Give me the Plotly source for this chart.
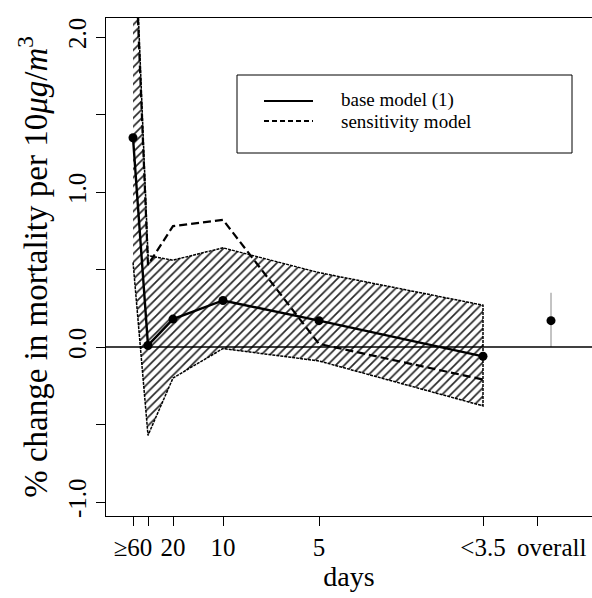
import plotly.graph_objects as go

# ---- data ----
# horizontal positions of the lag categories along the axis (axis units)
tick_pos = [133, 173, 223, 319, 483]
tick_labels = ["\u226560", "20", "10", "5", "<3.5"]
unlabeled_tick_pos = [148, 537]
overall_label_pos = 551

x_pts = [133, 148, 173, 223, 319, 483]
base_model = [1.35, 0.01, 0.18, 0.30, 0.17, -0.06]
sensitivity_model = [2.90, 0.53, 0.78, 0.82, 0.02, -0.21]
band_upper = [3.00, 0.59, 0.56, 0.64, 0.48, 0.27]
band_lower = [0.55, -0.57, -0.20, -0.01, -0.09, -0.38]

overall_x = [551]
overall_est = [0.17]
overall_lo = [0.00]
overall_hi = [0.35]

y_ticks = [-1.0, 0.0, 1.0, 2.0]
y_tick_labels = ["-1.0", "0.0", "1.0", "2.0"]
y_minor_ticks = [-0.5, 0.5, 1.5]

FONT = "Liberation Serif"

fig = go.Figure()

# hatched confidence band
fig.add_trace(go.Scatter(
    x=x_pts + x_pts[::-1],
    y=band_upper + band_lower[::-1],
    fill="toself",
    mode="lines",
    line=dict(color="black", width=1.5, dash="3px,1px"),
    fillcolor="rgba(0,0,0,0)",
    fillpattern=dict(shape="/", size=6, solidity=0.28, fgcolor="black", bgcolor="white", fgopacity=0.85),
    hoverinfo="skip", showlegend=False,
))

# sensitivity model
fig.add_trace(go.Scatter(
    x=x_pts, y=sensitivity_model, mode="lines",
    line=dict(color="black", width=2.2, dash="8px,4px"),
    showlegend=False,
))

# base model
fig.add_trace(go.Scatter(
    x=x_pts, y=base_model, mode="lines+markers",
    line=dict(color="black", width=2.4),
    marker=dict(color="black", size=9),
    showlegend=False,
))

# overall estimate with interval
fig.add_trace(go.Scatter(
    x=overall_x * 2, y=[overall_lo[0], overall_hi[0]], mode="lines",
    line=dict(color="#888888", width=1), showlegend=False,
))
fig.add_trace(go.Scatter(
    x=overall_x, y=overall_est, mode="markers",
    marker=dict(color="black", size=9), showlegend=False,
))

# zero reference line
fig.add_shape(type="line", xref="paper", yref="y", x0=0, x1=1, y0=0, y1=0,
              line=dict(color="black", width=1.5))

# legend box drawn manually (paper coordinates)
def px2paper_x(px):
    return (px - 106) / 486.0

def px2paper_y(py):
    return (516 - py) / 498.0

fig.add_shape(type="rect", xref="paper", yref="paper",
              x0=px2paper_x(237), x1=px2paper_x(572),
              y0=px2paper_y(153), y1=px2paper_y(75),
              line=dict(color="black", width=1), fillcolor="white", layer="above")
fig.add_shape(type="line", xref="paper", yref="paper",
              x0=px2paper_x(264), x1=px2paper_x(313), y0=px2paper_y(101), y1=px2paper_y(101),
              line=dict(color="black", width=2), layer="above")
fig.add_shape(type="line", xref="paper", yref="paper",
              x0=px2paper_x(264), x1=px2paper_x(313), y0=px2paper_y(121), y1=px2paper_y(121),
              line=dict(color="black", width=2, dash="5px,3px"), layer="above")
fig.add_annotation(xref="paper", yref="paper", x=px2paper_x(339), y=px2paper_y(100),
                   text="base model (1)", showarrow=False, xanchor="left", yanchor="middle",
                   font=dict(family=FONT, size=19, color="black"))
fig.add_annotation(xref="paper", yref="paper", x=px2paper_x(339), y=px2paper_y(121),
                   text="sensitivity model", showarrow=False, xanchor="left", yanchor="middle",
                   font=dict(family=FONT, size=19, color="black"))

# "overall" label (offset from its tick as in the original)
fig.add_annotation(xref="x", yref="paper", x=overall_label_pos, y=0, yshift=-16,
                   text="overall", showarrow=False, xanchor="center", yanchor="top",
                   font=dict(family=FONT, size=25, color="black"))

fig.update_layout(
    width=592, height=598,
    margin=dict(l=106, r=0, t=18, b=82),
    paper_bgcolor="white", plot_bgcolor="white",
    font=dict(family=FONT, color="black"),
    showlegend=False,
)
fig.update_xaxes(
    range=[106, 592], showgrid=False, zeroline=False,
    showline=True, linecolor="black", linewidth=1.2, mirror=True,
    ticks="outside", ticklen=9, tickwidth=1.2, tickcolor="black",
    tickvals=tick_pos, ticktext=tick_labels,
    minor=dict(tickmode="array", tickvals=unlabeled_tick_pos, ticks="outside",
               ticklen=9, tickwidth=1.2, tickcolor="black", showgrid=False),
    tickfont=dict(family=FONT, size=25),
    title=dict(text="days", font=dict(family=FONT, size=28), standoff=6),
)
fig.update_yaxes(
    range=[-1.0903, 2.1226], showgrid=False, zeroline=False,
    showline=True, linecolor="black", linewidth=1.2, mirror=False,
    ticks="outside", ticklen=9, tickwidth=1.2, tickcolor="black",
    tickvals=y_ticks, ticktext=y_tick_labels, tickangle=-90,
    minor=dict(tickmode="array", tickvals=y_minor_ticks, ticks="outside",
               ticklen=9, tickwidth=1.2, tickcolor="black", showgrid=False),
    tickfont=dict(family=FONT, size=25),
    title=dict(text="% change in mortality per 10<i>\u03bcg</i>/<i>m</i><sup>3</sup>",
               font=dict(family=FONT, size=33), standoff=6),
)

fig.write_html("out.html")
